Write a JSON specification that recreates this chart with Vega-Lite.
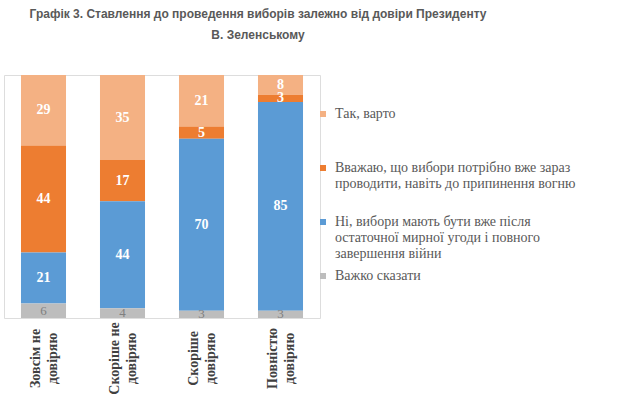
{
  "$schema": "https://vega.github.io/schema/vega-lite/v6.json",
  "width": 316,
  "height": 243,
  "autosize": {"type": "none"},
  "padding": {"left": 4, "top": 75, "right": 303, "bottom": 96},
  "background": "white",
  "title": {
    "text": ["Графік 3. Ставлення до проведення виборів залежно від довіри Президенту", "В. Зеленському"],
    "font": "Liberation Sans",
    "fontSize": 12,
    "fontWeight": "bold",
    "color": "#595959",
    "anchor": "middle",
    "frame": "group",
    "dx": 96,
    "offset": 33,
    "lineHeight": 21
  },
  "data": {
    "values": [
      {"category": "Зовсім не довіряю", "response": "Так, варто", "value": 29, "order": 4},
      {"category": "Зовсім не довіряю", "response": "Вважаю, що вибори потрібно вже зараз проводити, навіть до припинення вогню", "value": 44, "order": 3},
      {"category": "Зовсім не довіряю", "response": "Ні, вибори мають бути вже після остаточної мирної угоди і повного завершення війни", "value": 21, "order": 2},
      {"category": "Зовсім не довіряю", "response": "Важко сказати", "value": 6, "order": 1},
      {"category": "Скоріше не довіряю", "response": "Так, варто", "value": 35, "order": 4},
      {"category": "Скоріше не довіряю", "response": "Вважаю, що вибори потрібно вже зараз проводити, навіть до припинення вогню", "value": 17, "order": 3},
      {"category": "Скоріше не довіряю", "response": "Ні, вибори мають бути вже після остаточної мирної угоди і повного завершення війни", "value": 44, "order": 2},
      {"category": "Скоріше не довіряю", "response": "Важко сказати", "value": 4, "order": 1},
      {"category": "Скоріше довіряю", "response": "Так, варто", "value": 21, "order": 4},
      {"category": "Скоріше довіряю", "response": "Вважаю, що вибори потрібно вже зараз проводити, навіть до припинення вогню", "value": 5, "order": 3},
      {"category": "Скоріше довіряю", "response": "Ні, вибори мають бути вже після остаточної мирної угоди і повного завершення війни", "value": 70, "order": 2},
      {"category": "Скоріше довіряю", "response": "Важко сказати", "value": 3, "order": 1},
      {"category": "Повністю довіряю", "response": "Так, варто", "value": 8, "order": 4},
      {"category": "Повністю довіряю", "response": "Вважаю, що вибори потрібно вже зараз проводити, навіть до припинення вогню", "value": 3, "order": 3},
      {"category": "Повністю довіряю", "response": "Ні, вибори мають бути вже після остаточної мирної угоди і повного завершення війни", "value": 85, "order": 2},
      {"category": "Повністю довіряю", "response": "Важко сказати", "value": 3, "order": 1}
    ]
  },
  "encoding": {
    "x": {
      "field": "category",
      "type": "nominal",
      "sort": ["Зовсім не довіряю", "Скоріше не довіряю", "Скоріше довіряю", "Повністю довіряю"],
      "scale": {"paddingInner": 0.43, "paddingOuter": 0.215},
      "axis": {
        "title": null,
        "domain": false,
        "ticks": false,
        "labelAngle": 270,
        "labelAlign": "center",
        "labelBaseline": "line-bottom",
        "labelPadding": 40,
        "labelFont": "'Liberation Serif', 'DejaVu Serif', serif",
        "labelFontSize": 14,
        "labelFontWeight": "bold",
        "labelColor": "#404040",
        "labelLineHeight": 17,
        "labelLimit": 200,
        "labelExpr": "[slice(datum.label, 0, lastindexof(datum.label, ' ')), slice(datum.label, lastindexof(datum.label, ' ') + 1)]"
      }
    },
    "y": {
      "field": "value",
      "type": "quantitative",
      "stack": "normalize",
      "axis": null
    },
    "order": {"field": "order", "type": "quantitative"}
  },
  "layer": [
    {
      "mark": {"type": "bar"},
      "encoding": {
        "color": {
          "field": "response",
          "type": "nominal",
          "scale": {
            "domain": ["Так, варто", "Вважаю, що вибори потрібно вже зараз проводити, навіть до припинення вогню", "Ні, вибори мають бути вже після остаточної мирної угоди і повного завершення війни", "Важко сказати"],
            "range": ["#F4B183", "#ED7D31", "#5B9BD5", "#BDBDBD"]
          },
          "legend": {
            "title": null,
            "orient": "none",
            "legendX": 312,
            "legendY": 32,
            "padding": 0,
            "gridAlign": "all",
            "rowPadding": 8,
            "symbolType": "square",
            "symbolSize": 36,
            "symbolStrokeWidth": 0,
            "labelOffset": 5,
            "labelFont": "'Liberation Serif', 'DejaVu Serif', serif",
            "labelFontSize": 14,
            "labelColor": "#595959",
            "labelLineHeight": 17,
            "labelLimit": 300,
            "labelExpr": "datum.label == 'Вважаю, що вибори потрібно вже зараз проводити, навіть до припинення вогню' ? ['Вважаю, що вибори потрібно вже зараз', 'проводити, навіть до припинення вогню'] : datum.label == 'Ні, вибори мають бути вже після остаточної мирної угоди і повного завершення війни' ? ['Ні, вибори мають бути вже після', 'остаточної мирної угоди і повного', 'завершення війни'] : datum.label"
          }
        }
      }
    },
    {
      "mark": {"type": "text", "font": "'Liberation Serif', 'DejaVu Serif', serif", "fontSize": 14, "fontWeight": "bold", "color": "white", "baseline": "middle"},
      "encoding": {
        "y": {"field": "value", "type": "quantitative", "stack": "normalize", "bandPosition": 0.5},
        "text": {"condition": {"test": "datum.response != 'Важко сказати'", "field": "value", "type": "quantitative"}, "value": ""}
      }
    },
    {
      "mark": {"type": "text", "font": "'Liberation Serif', 'DejaVu Serif', serif", "fontSize": 13, "color": "#7F7F7F", "baseline": "middle"},
      "encoding": {
        "y": {"field": "value", "type": "quantitative", "stack": "normalize", "bandPosition": 0.5},
        "text": {"condition": {"test": "datum.response == 'Важко сказати'", "field": "value", "type": "quantitative"}, "value": ""}
      }
    }
  ]
}
